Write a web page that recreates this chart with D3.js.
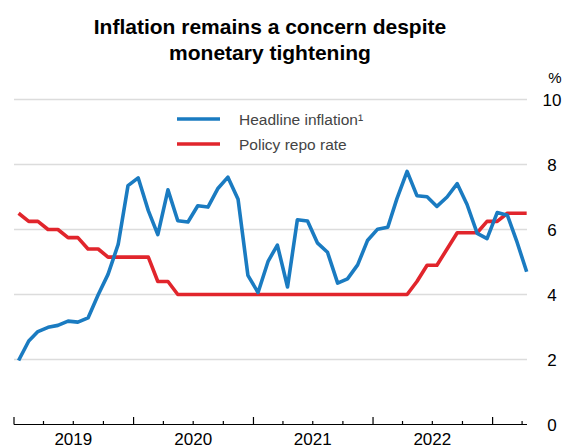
<!DOCTYPE html>
<html>
<head>
<meta charset="utf-8">
<script src="https://cdn.jsdelivr.net/npm/d3@7"></script>
<style>
  body { margin: 0; background: #fff; }
  text { font-family: "Liberation Sans", Arial, sans-serif; }
</style>
</head>
<body>
<div id="main"></div>
<script>
// monthly series, Jan 2019 - Apr 2023
const firstMonth = new Date(2019, 0, 1);
const lastMonth = new Date(2023, 3, 1);

const headline = [
    1.97, 2.57, 2.86, 2.99, 3.05, 3.18, 3.15, 3.28, 3.99, 4.62, 5.54, 7.35,
    7.59, 6.58, 5.84, 7.22, 6.27, 6.23, 6.73, 6.69, 7.27, 7.61, 6.93, 4.59,
    4.06, 5.03, 5.52, 4.23, 6.30, 6.26, 5.59, 5.30, 4.35, 4.48, 4.91, 5.66,
    6.01, 6.07, 6.95, 7.79, 7.04, 7.01, 6.71, 7.00, 7.41, 6.77, 5.88, 5.72,
    6.52, 6.44, 5.66, 4.70
];
const repo = [
    6.50, 6.25, 6.25, 6.00, 6.00, 5.75, 5.75, 5.40, 5.40, 5.15, 5.15, 5.15,
    5.15, 5.15, 4.40, 4.40, 4.00, 4.00, 4.00, 4.00, 4.00, 4.00, 4.00, 4.00,
    4.00, 4.00, 4.00, 4.00, 4.00, 4.00, 4.00, 4.00, 4.00, 4.00, 4.00, 4.00,
    4.00, 4.00, 4.00, 4.00, 4.40, 4.90, 4.90, 5.40, 5.90, 5.90, 5.90, 6.25,
    6.25, 6.50, 6.50, 6.50
];
const yTicks = [0, 2, 4, 6, 8, 10];
const years = [2019, 2020, 2021, 2022];
const titleLines = ["Inflation remains a concern despite", "monetary tightening"];
const legendLabels = ["Headline inflation\u00B9", "Policy repo rate"];

const colors = { headline: "#1a7bc1", repo: "#e1252c" };

const W = 563, H = 445;
const months = d3.timeMonth.range(firstMonth, d3.timeMonth.offset(lastMonth, 1))
    .map(d => d3.timeDay.offset(d, 14));

const svg = d3.select("#main").append("svg")
    .attr("width", W)
    .attr("height", H);

const x = d3.scaleTime()
    .domain([firstMonth, d3.timeDay.offset(lastMonth, 15)])
    .range([14, 527]);
const y = d3.scaleLinear()
    .domain([0, 10])
    .range([424.5, 99.5]);

// title
svg.append("g").selectAll("text")
    .data(titleLines)
    .enter()
    .append("text")
    .attr("x", 270)
    .attr("y", (d, i) => 33.5 + i * 26)
    .attr("text-anchor", "middle")
    .style("font-size", "21px")
    .style("font-weight", "bold")
    .style("fill", "#000")
    .text(d => d);

// gridlines
svg.append("g").selectAll("line")
    .data(yTicks.filter(d => d > 0))
    .enter()
    .append("line")
    .attr("x1", x.range()[0])
    .attr("x2", x.range()[1])
    .attr("y1", d => y(d))
    .attr("y2", d => y(d))
    .style("stroke", "#dcdcdc")
    .style("stroke-width", 1.5);

// y labels on the right
svg.append("g").selectAll("text")
    .data(yTicks)
    .enter()
    .append("text")
    .attr("x", 552)
    .attr("y", d => y(d))
    .attr("dy", "0.36em")
    .attr("text-anchor", "middle")
    .style("font-size", "17px")
    .style("fill", "#000")
    .text(d => d);

svg.append("text")
    .attr("x", 555)
    .attr("y", 83)
    .attr("text-anchor", "middle")
    .style("font-size", "15px")
    .text("%");

// x axis
const xAxis = svg.append("g");
xAxis.append("line")
    .attr("x1", x.range()[0])
    .attr("x2", x.range()[1])
    .attr("y1", y(0))
    .attr("y2", y(0))
    .style("stroke", "#000")
    .style("stroke-width", 1.2);

const quarterTicks = d3.timeMonth.every(3).range(firstMonth, x.domain()[1]);
xAxis.selectAll(".tick")
    .data(quarterTicks)
    .enter()
    .append("line")
    .attr("class", "tick")
    .attr("x1", d => x(d))
    .attr("x2", d => x(d))
    .attr("y1", y(0))
    .attr("y2", d => y(0) - (d.getMonth() === 0 ? 7.5 : 3.5))
    .style("stroke", "#000")
    .style("stroke-width", 1.2);

xAxis.selectAll(".year")
    .data(years)
    .enter()
    .append("text")
    .attr("class", "year")
    .attr("x", d => x(new Date(d, 6, 1)))
    .attr("y", 445)
    .attr("text-anchor", "middle")
    .style("font-size", "17px")
    .style("fill", "#000")
    .text(d => d);

// lines
const line = d3.line()
    .x((d, i) => x(months[i]))
    .y(d => y(d));

svg.append("path")
    .datum(repo)
    .attr("d", line)
    .style("fill", "none")
    .style("stroke", colors.repo)
    .style("stroke-width", 3.6)
    .style("stroke-linejoin", "round");

svg.append("path")
    .datum(headline)
    .attr("d", line)
    .style("fill", "none")
    .style("stroke", colors.headline)
    .style("stroke-width", 3.6)
    .style("stroke-linejoin", "round");

// legend
const legend = svg.append("g").selectAll("g")
    .data([colors.headline, colors.repo])
    .enter()
    .append("g")
    .attr("transform", (d, i) => `translate(177, ${119 + i * 25})`);

legend.append("line")
    .attr("x1", 0)
    .attr("x2", 43)
    .style("stroke", d => d)
    .style("stroke-width", 3.6);

legend.append("text")
    .attr("x", 62)
    .attr("dy", "0.36em")
    .style("font-size", "15.5px")
    .style("fill", "#444")
    .text((d, i) => legendLabels[i]);
</script>
</body>
</html>
